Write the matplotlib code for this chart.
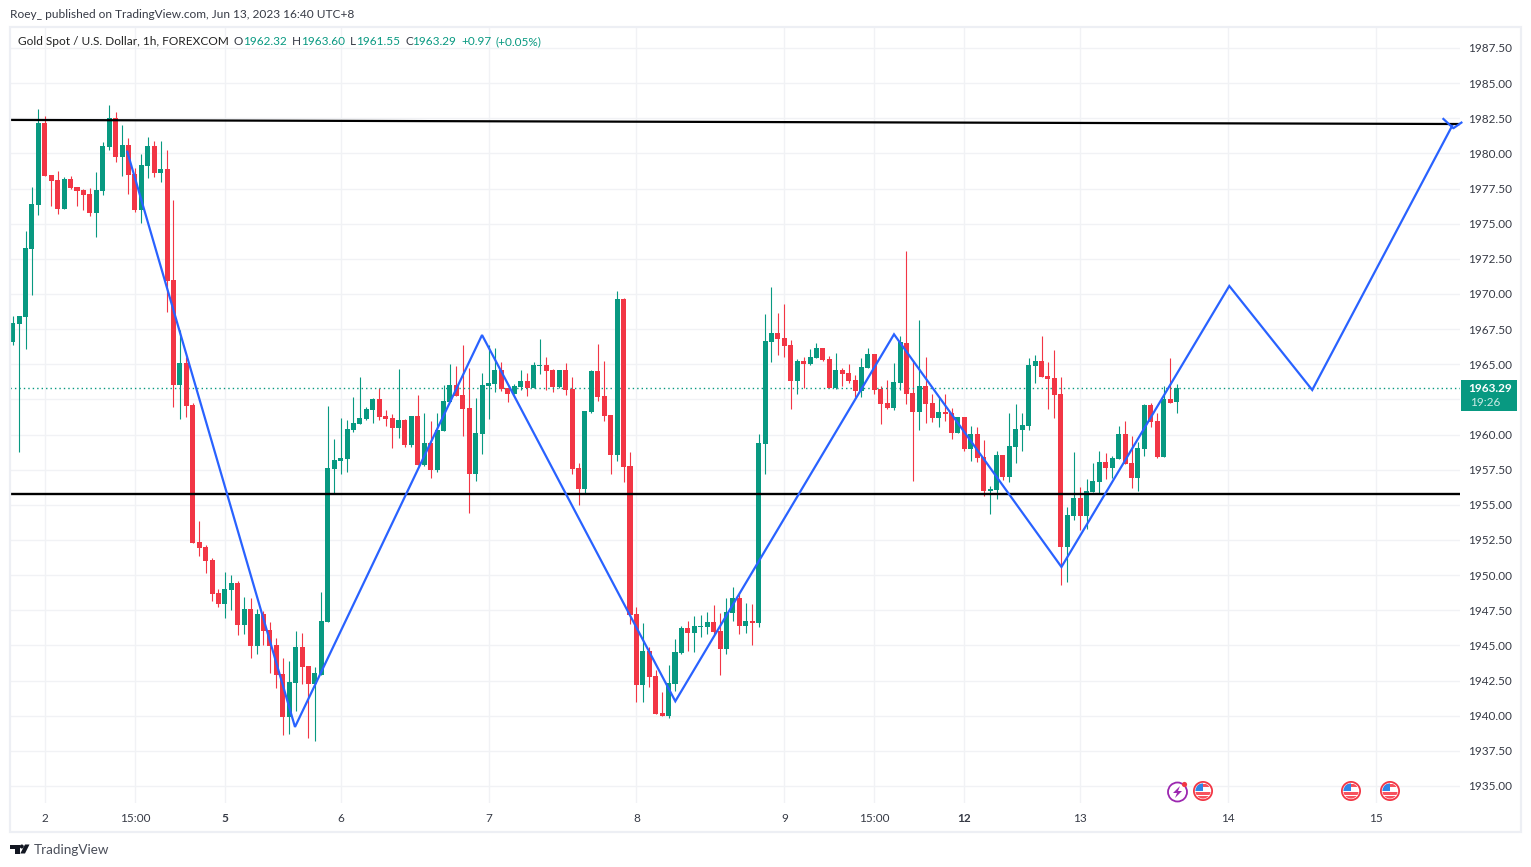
import matplotlib
matplotlib.use("Agg")
import matplotlib.pyplot as plt
from matplotlib.patches import Rectangle, Circle, Polygon
import numpy as np

opens = [1966.61,1967.86,1968.39,1973.20,1976.33,1982.16,1978.46,1978.11,1976.05,1978.18,
 1977.61,1977.40,1977.11,1975.76,1977.33,1980.46,1982.52,1979.75,1980.60,1978.54,
 1975.97,1979.10,1980.53,1978.61,1978.89,1970.99,1963.53,1965.09,1962.11,1952.36,
 1952.00,1951.08,1948.73,1947.95,1948.95,1949.44,1946.46,1947.59,1944.96,1947.24,
 1946.10,1945.03,1942.97,1939.91,1942.33,1944.89,1943.54,1942.26,1942.90,1946.67,
 1957.55,1958.12,1958.27,1960.33,1960.76,1961.11,1961.75,1962.53,1961.32,1961.18,
 1960.47,1961.04,1959.26,1961.32,1957.83,1959.40,1957.48,1960.25,1962.32,1963.53,
 1962.81,1961.89,1957.19,1960.04,1963.45,1963.60,1964.59,1963.31,1962.89,1963.38,
 1963.81,1963.31,1964.88,1964.95,1964.59,1963.38,1964.59,1963.24,1957.62,1956.13,
 1961.61,1964.52,1962.74,1961.39,1958.55,1969.64,1957.77,1947.24,1942.19,1944.61,
 1942.83,1940.20,1939.98,1942.26,1944.46,1946.24,1945.89,1946.31,1946.31,1946.67,
 1946.03,1944.75,1947.31,1948.38,1946.39,1946.74,1946.60,1959.33,1966.59,1967.23,
 1966.87,1966.38,1963.82,1965.24,1965.02,1965.45,1966.16,1965.38,1963.32,1964.60,
 1964.38,1963.89,1963.10,1964.74,1965.74,1963.25,1962.25,1961.89,1963.67,1966.52,
 1962.96,1961.61,1963.46,1962.25,1961.18,1961.61,1961.54,1960.12,1961.25,1958.98,
 1960.05,1958.41,1955.99,1956.06,1958.55,1956.98,1959.12,1960.33,1960.61,1964.88,
 1965.23,1964.17,1964.03,1962.89,1952.00,1954.21,1955.49,1954.21,1955.92,1956.63,
 1958.05,1957.62,1958.26,1960.04,1957.98,1956.91,1958.97,1962.10,1960.97,1958.40,1962.53,1962.32]

closes = [1967.91,1968.43,1973.27,1976.40,1982.16,1978.39,1978.04,1976.05,1978.18,1977.54,
 1977.33,1977.04,1975.76,1977.40,1980.53,1982.52,1979.75,1980.60,1978.46,1975.97,
 1979.18,1980.53,1978.61,1978.89,1970.92,1963.53,1965.09,1962.03,1952.31,1951.93,
 1951.00,1948.66,1947.95,1949.00,1949.44,1946.46,1947.59,1944.96,1947.24,1946.03,
 1944.96,1942.90,1939.91,1942.40,1944.89,1943.47,1942.26,1943.04,1946.74,1957.63,
 1958.20,1958.34,1960.40,1960.83,1961.18,1961.82,1962.53,1961.25,1961.11,1960.47,
 1961.04,1959.26,1961.32,1957.83,1959.40,1957.48,1960.32,1962.39,1963.53,1962.74,
 1961.82,1957.19,1960.11,1963.53,1963.67,1964.59,1963.24,1962.89,1963.45,1963.81,
 1963.31,1964.95,1964.95,1964.52,1963.38,1964.59,1963.17,1957.55,1956.13,1961.68,
 1964.52,1962.67,1961.32,1958.55,1969.64,1957.69,1947.17,1942.19,1944.61,1942.76,
 1940.13,1939.98,1942.33,1944.54,1946.24,1945.89,1946.39,1946.39,1946.67,1945.96,
 1944.75,1947.38,1948.38,1946.39,1946.74,1946.60,1959.40,1966.66,1967.23,1966.80,
 1966.30,1963.82,1965.24,1965.02,1965.52,1966.16,1965.31,1963.32,1964.60,1964.31,
 1963.82,1963.10,1964.81,1965.74,1963.17,1962.18,1961.89,1963.74,1966.59,1962.89,
 1961.61,1963.46,1962.18,1961.18,1961.61,1961.47,1960.12,1961.25,1958.98,1960.05,
 1958.34,1955.99,1956.13,1958.55,1956.98,1959.19,1960.40,1960.68,1964.95,1965.23,
 1964.10,1963.95,1962.82,1952.00,1954.28,1955.49,1954.21,1955.99,1956.70,1958.05,
 1957.62,1958.33,1960.04,1957.91,1956.91,1959.05,1962.10,1960.90,1958.40,1962.53,1962.25,1963.29]

highs = [1968.43,1968.43,1974.48,1977.61,1983.16,1982.66,1978.46,1978.75,1978.32,1978.39,
 1977.61,1977.47,1977.54,1978.68,1980.81,1983.44,1982.95,1982.02,1981.10,1978.96,
 1979.96,1981.17,1980.88,1980.88,1980.24,1976.69,1967.44,1965.54,1962.25,1953.85,
 1952.15,1951.22,1949.00,1950.23,1950.01,1949.59,1948.45,1948.38,1947.59,1947.45,
 1946.67,1945.53,1944.11,1943.90,1946.03,1945.89,1943.54,1943.47,1948.80,1962.04,
 1959.69,1961.18,1961.04,1962.68,1964.10,1961.97,1962.60,1963.31,1961.75,1961.46,
 1964.66,1961.11,1961.32,1962.81,1961.53,1960.97,1961.53,1963.53,1965.02,1964.88,
 1966.37,1964.74,1962.60,1964.38,1966.37,1966.16,1965.16,1963.31,1963.60,1964.59,
 1964.38,1965.16,1966.80,1965.52,1964.66,1964.59,1965.09,1964.09,1957.98,1961.68,
 1964.59,1966.44,1965.23,1961.39,1970.21,1969.72,1958.76,1947.74,1946.60,1944.89,
 1943.26,1941.69,1943.61,1945.46,1946.39,1946.74,1947.10,1947.17,1947.38,1947.88,
 1947.31,1948.38,1949.16,1948.66,1948.02,1947.95,1960.04,1968.58,1970.50,1968.65,
 1969.29,1966.73,1965.38,1965.52,1966.09,1966.52,1966.16,1965.59,1965.81,1964.74,
 1965.02,1964.24,1965.45,1966.16,1965.74,1963.46,1963.89,1965.10,1967.02,1973.06,
 1965.31,1968.15,1965.52,1962.89,1962.68,1962.89,1961.89,1961.25,1961.25,1960.61,
 1960.54,1959.62,1956.35,1958.84,1958.55,1961.54,1962.18,1961.54,1965.45,1965.66,
 1967.01,1965.16,1966.02,1964.10,1954.85,1958.76,1956.27,1956.84,1957.98,1958.83,
 1958.69,1958.48,1960.61,1960.97,1959.90,1959.47,1962.18,1962.25,1961.54,1963.46,1965.45,1963.60]

lows = [1966.37,1958.78,1966.11,1969.93,1975.62,1978.39,1976.26,1975.69,1976.05,1977.47,
 1976.26,1975.97,1975.55,1974.05,1977.04,1980.24,1979.39,1978.39,1977.11,1975.83,
 1975.05,1978.25,1978.32,1977.97,1968.72,1961.96,1961.11,1961.25,1952.31,1951.37,
 1950.16,1948.16,1947.74,1946.95,1947.52,1945.75,1945.82,1944.11,1944.39,1945.03,
 1943.04,1941.97,1938.63,1938.70,1940.34,1942.26,1938.42,1938.20,1942.90,1946.67,
 1955.82,1957.20,1957.34,1960.19,1960.76,1961.04,1960.82,1961.04,1960.61,1959.04,
 1959.76,1959.12,1959.12,1957.83,1957.76,1956.91,1957.34,1960.25,1962.32,1962.74,
 1959.90,1954.42,1956.70,1958.62,1961.11,1963.03,1963.10,1962.32,1962.89,1963.17,
 1962.74,1963.31,1964.31,1963.17,1963.03,1963.31,1962.81,1957.19,1954.99,1955.77,
 1961.53,1962.39,1960.97,1957.19,1958.12,1956.63,1946.53,1940.98,1940.98,1942.05,
 1940.13,1939.98,1939.84,1941.76,1944.39,1944.61,1944.54,1945.60,1945.82,1945.82,
 1942.90,1944.39,1946.74,1945.82,1945.89,1945.03,1946.31,1957.20,1965.17,1965.66,
 1965.52,1961.82,1962.89,1963.32,1964.95,1965.45,1965.24,1963.32,1963.25,1963.46,
 1963.67,1962.68,1962.68,1964.74,1962.89,1960.76,1961.82,1961.75,1963.17,1962.18,
 1956.70,1960.33,1960.83,1960.90,1960.54,1960.97,1959.69,1960.12,1958.84,1958.12,
 1958.05,1955.63,1954.35,1955.42,1956.77,1956.63,1957.98,1958.83,1960.33,1963.67,
 1964.10,1961.82,1961.18,1949.30,1949.51,1953.92,1953.21,1953.28,1955.92,1955.84,
 1956.84,1956.91,1958.26,1957.91,1956.20,1955.99,1958.48,1960.54,1958.33,1958.40,1962.25,1961.53]

zigzag_bar = [17.82, 43.9, 72.99, 103.05, 137.06, 163.1, 189.2, 202.1, 223.85]
zigzag_price = [1980.12, 1939.2, 1967.08, 1941.03, 1967.13, 1950.58, 1970.57, 1963.17, 1981.95]
arrow_bar = [222.5, 224.05, 225.3]
arrow_price = [1982.45, 1981.79, 1982.19]
resistance_bar = [-0.42, 225.08]
resistance_price = [1982.38, 1982.09]
support_bar = [-0.42, 225.08]
support_price = [1955.77, 1955.77]
last_price = 1963.29

time_bars = [5, 19, 33, 51, 74, 97, 120, 134, 148, 166, 189, 212]
time_labels = ["2", "15:00", "5", "6", "7", "8", "9", "15:00", "12", "13", "14", "15"]
bold_time_labels = ["5", "12"]
price_ticks = [1935 + 2.5 * k for k in range(22)]
hidden_price_tick = 1962.5

GREEN = "#089981"
RED = "#F23645"
BLUE = "#2962FF"
GRID = "#F1F2F5"
TEXT = "#363A45"
FONT = "Lato"
W, H = 1531, 867

plt.rcParams["font.family"] = FONT
fig = plt.figure(figsize=(W / 100, H / 100), dpi=100, facecolor="white")
L, R, T, B = 10, 1460, 28, 803
ax = fig.add_axes([L / W, 1 - B / H, (R - L) / W, (B - T) / H])
ax.set_xlim(-0.42, 225.08)
ax.set_ylim(1933.79, 1988.92)
for s in ax.spines.values():
    s.set_visible(False)
ax.set_xticks(time_bars)
ax.set_xticklabels(time_labels)
ax.set_yticks(price_ticks)
ax.set_yticklabels(["" if p == hidden_price_tick else f"{p:.2f}" for p in price_ticks])
ax.yaxis.tick_right()
ax.tick_params(axis="both", length=0, labelsize=8.5, labelcolor=TEXT)
ax.tick_params(axis="x", pad=7)
ax.tick_params(axis="y", pad=6)
for lab in ax.get_xticklabels():
    if lab.get_text() in bold_time_labels:
        lab.set_fontweight("bold")
ax.grid(True, color=GRID, lw=1.0, zorder=0)
ax.set_axisbelow(True)

x = np.arange(len(opens))
o, c, h, l = map(np.array, (opens, closes, highs, lows))
up = c >= o
colors = np.where(up, GREEN, RED)
ax.vlines(x, l, h, colors=colors, lw=0.8, zorder=2)
ax.bar(x, np.abs(c - o), bottom=np.minimum(o, c), width=0.78, color=colors, lw=0, zorder=3)

ax.axhline(last_price, color=GREEN, lw=1.0, ls=(0, (1, 2.2)), zorder=2)
ax.plot(resistance_bar, resistance_price, color="black", lw=1.6, zorder=4, solid_capstyle="butt")
ax.plot(support_bar, support_price, color="black", lw=1.7, zorder=4, solid_capstyle="butt")
ax.plot(zigzag_bar, zigzag_price, color=BLUE, lw=1.6, zorder=5, solid_joinstyle="miter")
ax.plot(arrow_bar, arrow_price, color=BLUE, lw=1.6, zorder=5, clip_on=False)

# page-level overlay in pixel coordinates
ov = fig.add_axes([0, 0, 1, 1], facecolor="none", zorder=10)
ov.set_xlim(0, W)
ov.set_ylim(H, 0)
ov.axis("off")
ov.add_patch(Rectangle((10, 27), 1511, 805, fc="none", ec="#EDEFF4", lw=1.6))

ov.text(10, 14.5, "Roey_ published on TradingView.com, Jun 13, 2023 16:40 UTC+8",
        fontsize=8.6, color=TEXT, va="center", ha="left")
ov.text(18, 41.5, "Gold Spot / U.S. Dollar, 1h, FOREXCOM", fontsize=8.55, color="#222", va="center")
for xp, s, col in [(234, "O", TEXT), (243, "1962.32", GREEN), (292, "H", TEXT), (301, "1963.60", GREEN),
                   (350, "L", TEXT), (356, "1961.55", GREEN), (405, "C", TEXT), (412.5, "1963.29", GREEN),
                   (461, "+0.97", GREEN), (495, "(+0.05%)", GREEN)]:
    ov.text(xp, 41.5, s, fontsize=8.5, color=col, va="center")

ov.add_patch(Rectangle((1461, 380), 56, 31, fc=GREEN, ec="none"))
ov.text(1490, 388.5, "1963.29", color="white", fontsize=8.5, fontweight="bold", ha="center", va="center")
ov.text(1485, 402.5, "19:26", color="#CBEBE5", fontsize=8.5, ha="center", va="center")

# event markers
def flag(cx, cy=791):
    ov.add_patch(Circle((cx, cy), 10, fc=RED, ec="none"))
    ov.add_patch(Circle((cx, cy), 8.2, fc="white", ec="none"))
    clip = Circle((cx, cy), 7.6, transform=ov.transData)
    for dy, col in [(-7, "#F7525F"), (1, "#F7525F"), (5, "#F7525F")]:
        r = Rectangle((cx - 8, cy + dy), 16, 2.6, fc=col, ec="none")
        ov.add_patch(r)
        r.set_clip_path(clip)
    r = Rectangle((cx - 8, cy - 8), 8, 8, fc="#2E86E8", ec="none")
    ov.add_patch(r)
    r.set_clip_path(clip)

for fx in (1203, 1351, 1390):
    flag(fx)
ov.add_patch(Circle((1177.5, 792), 9.5, fc="white", ec="#9C27B0", lw=1.3))
ov.add_patch(Polygon([(1180, 786), (1173, 793), (1177, 793), (1175, 798), (1182, 791), (1178, 791)],
                     fc="#9C27B0", ec="none"))
ov.add_patch(Circle((1184.5, 784.5), 2.6, fc=RED, ec="none"))

# TradingView mark
LOGO = "#131722"
ov.add_patch(Polygon([(10, 844.5), (19.5, 844.5), (19.5, 853.5), (15, 853.5), (15, 848.5), (10, 848.5)], fc=LOGO, ec="none"))
ov.add_patch(Circle((21.8, 846.5), 2.0, fc=LOGO, ec="none"))
ov.add_patch(Polygon([(25, 844.5), (29.5, 844.5), (25, 853.5), (20.3, 853.5)], fc=LOGO, ec="none"))
ov.text(33.5, 849.5, "TradingView", fontsize=9.7, color="#4A4E59", va="center")

fig.savefig("out.png", dpi=100, facecolor="white")
